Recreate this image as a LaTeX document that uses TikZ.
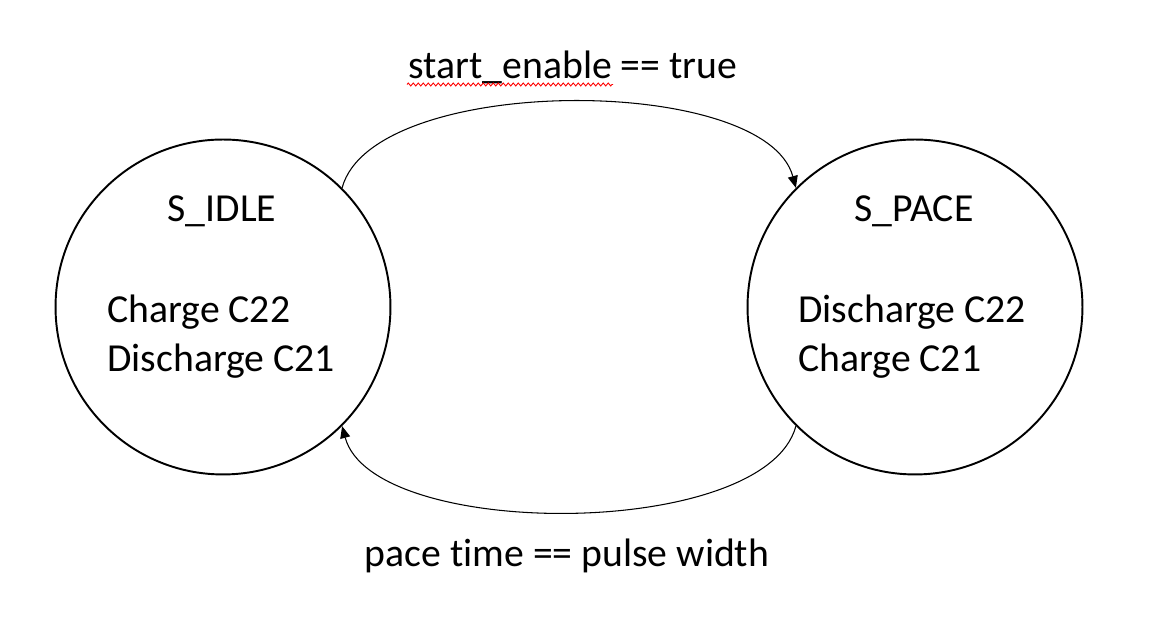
\documentclass[tikz,border=0pt]{standalone}
\usepackage{fontspec}
\setmainfont{Carlito}[Ligatures=NoCommon]
\usetikzlibrary{arrows.meta,decorations.pathmorphing}

\begin{document}
\begin{tikzpicture}[x=0.02cm,y=0.02cm,
    state/.style={draw,circle,line width=1.1pt,minimum size=6.7cm,inner sep=0pt},
    txt/.style={inner sep=0pt,font=\fontsize{22.6}{27}\selectfont},
    trans/.style={line width=0.6pt,-{Triangle[length=0.24cm,width=0.2cm]}}]
                \useasboundingbox (0,0) rectangle (1154,638);
                \node[state] (idle) at (223,331) {};
                \node[state] (pace) at (915,331) {};
                % state names and actions
                \node[txt,anchor=base] (idlename) at (222,416) {S\_IDLE};
                \node[txt,anchor=base west] (idleone) at (107,315) {Charge C22};
                \node[txt,anchor=base west] (idletwo) at (107,266) {Discharge C21};
                \node[txt,anchor=base] (pacename) at (914,416) {S\_PACE};
                \node[txt,anchor=base west] (paceone) at (798,315) {Discharge C22};
                \node[txt,anchor=base west] (pacetwo) at (798,266) {Charge C21};
                % transitions
                \draw[trans] (idle.45) to[out=75,in=105,looseness=0.67] (pace.135);
                \draw[trans] (pace.-135) to[out=-105,in=-75,looseness=0.67] (idle.-45);
                \node[txt,anchor=base] (startlbl) at (573,559) {start\_enable == true};
                \node[txt,anchor=base] (pacelbl) at (567,71) {pace time == pulse width};
                \draw[red,line width=0.5pt,decorate,
                    decoration={zigzag,segment length=0.1cm,amplitude=0.03cm}] (407,553.5) -- (613,553.5);
            \end{tikzpicture}
\end{document}
